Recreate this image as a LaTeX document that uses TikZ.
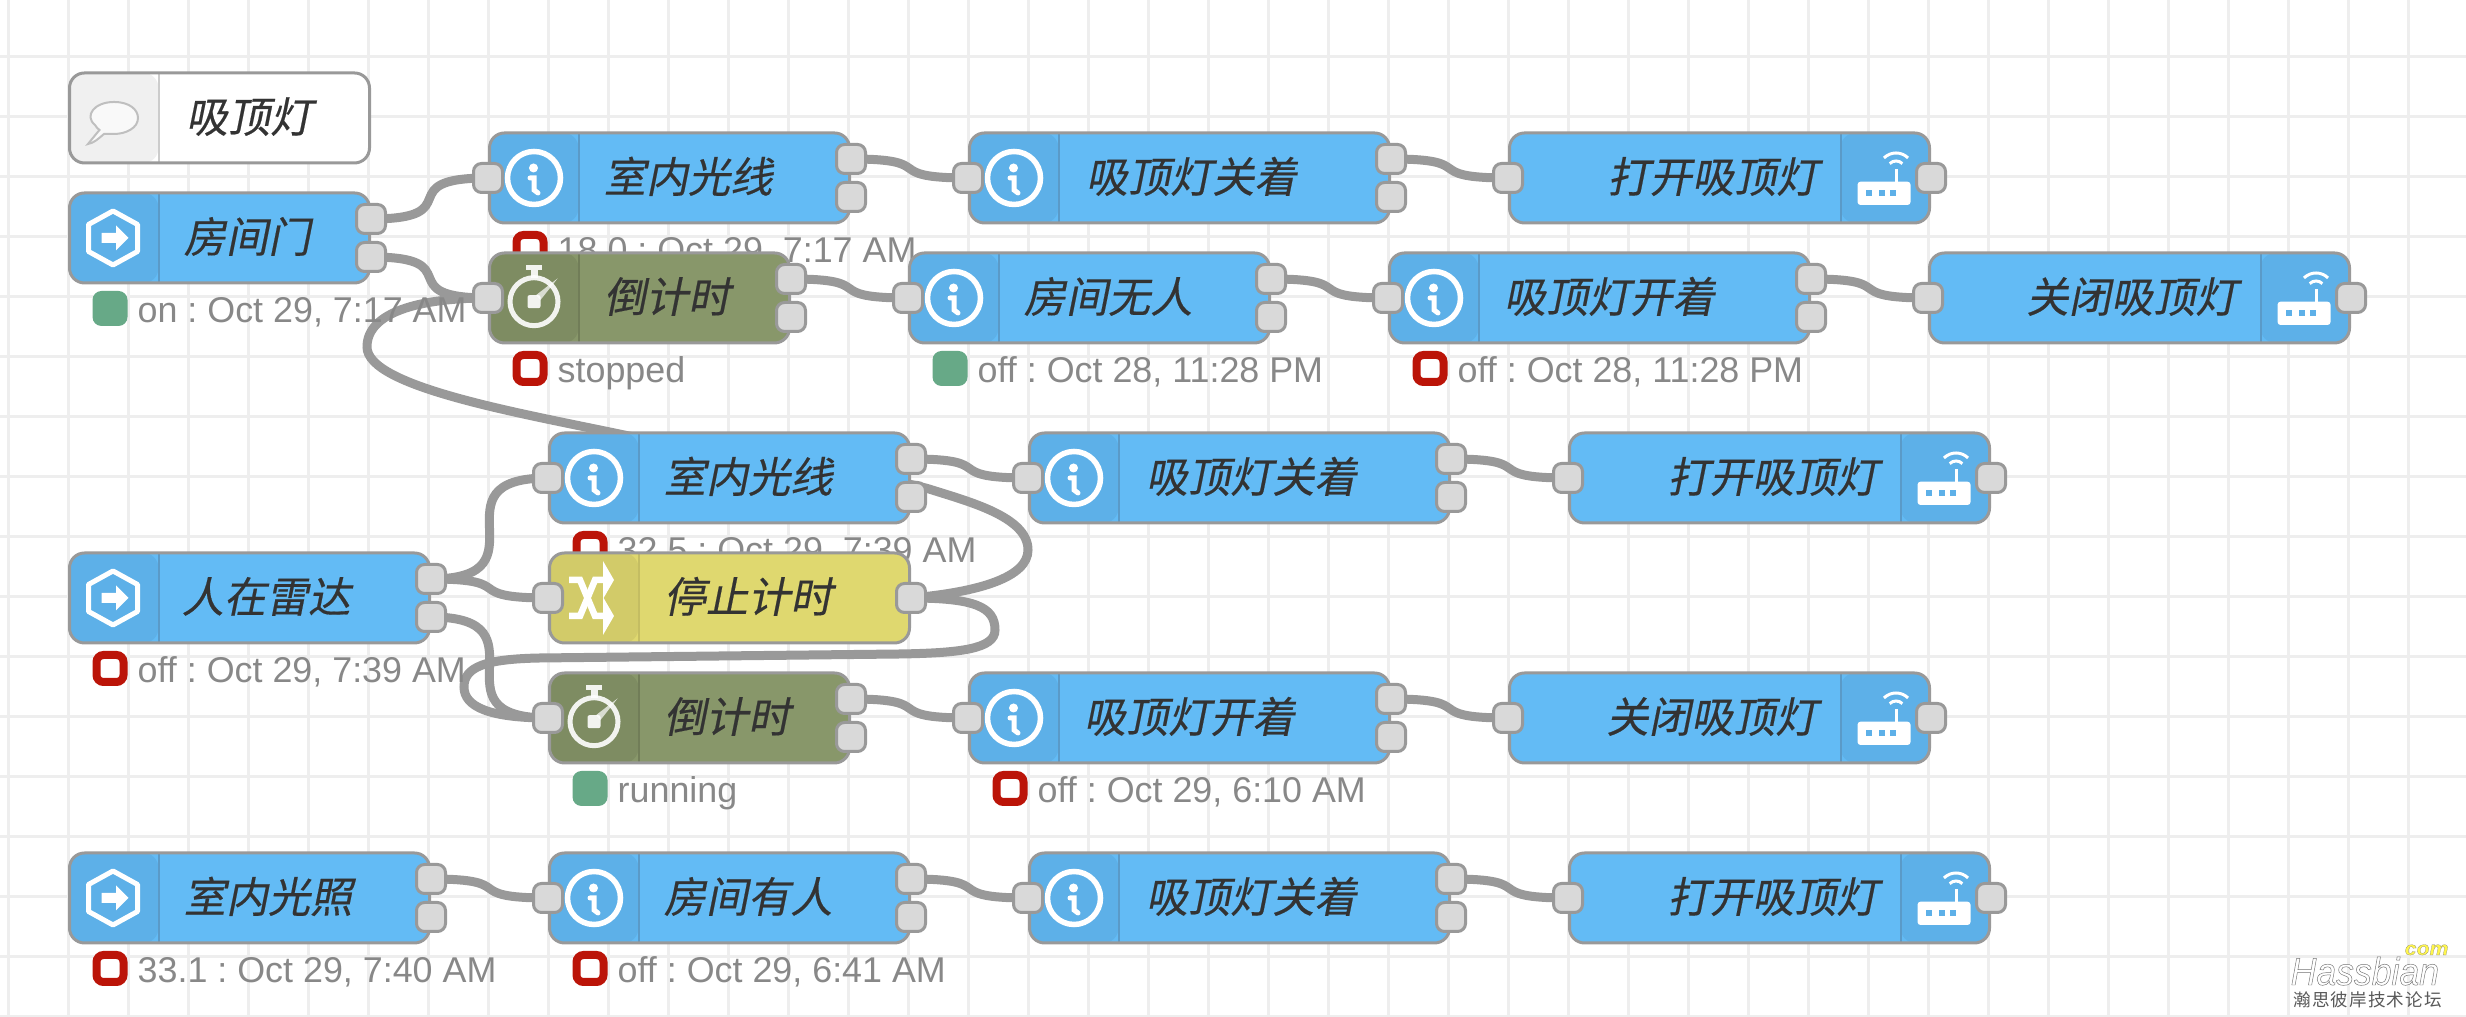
\documentclass[tikz,border=0pt]{standalone}
\usepackage{fontspec}
\usepackage{tikz}
\setmainfont{Liberation Sans}
\newfontfamily\cjkslant[FakeSlant=.2,FakeBold=.4]{Noto Sans CJK SC}
\newfontfamily\cjkplain[LetterSpace=6]{Noto Sans CJK SC}
\newfontfamily\hassfont[FakeBold=1.2,FakeStretch=.92]{Liberation Sans Italic}
\newfontfamily\comfont[FakeBold=.8,FakeStretch=1.1]{Liberation Sans Bold Italic}
\definecolor{nodeline}{HTML}{999999}
\definecolor{gridline}{HTML}{EEEEEE}
\definecolor{portgrey}{HTML}{D9D9D9}
\definecolor{inkgrey}{HTML}{333333}
\definecolor{statusgrey}{HTML}{888888}
\definecolor{flowblue}{HTML}{63BBF5}
\definecolor{tabblue}{HTML}{5DB0E8}
\definecolor{edgeblue}{HTML}{5A9AC8}
\definecolor{flowolive}{HTML}{88976A}
\definecolor{tabolive}{HTML}{7E8C62}
\definecolor{edgeolive}{HTML}{717D58}
\definecolor{flowyellow}{HTML}{DFD86F}
\definecolor{tabyellow}{HTML}{D2CB69}
\definecolor{edgeyellow}{HTML}{C4BD62}
\definecolor{tabgrey}{HTML}{F0F0F0}
\definecolor{ledgreen}{HTML}{67A987}
\definecolor{ledred}{HTML}{BB1408}
\pgfdeclarelayer{gridlayer}
\pgfdeclarelayer{wirelayer}
\pgfdeclarelayer{statuslayer}
\pgfsetlayers{gridlayer,wirelayer,statuslayer,main}
\tikzset{
	body/.style={draw=nodeline,line width=.03cm,rounded corners=.15cm,minimum height=.9cm,inner sep=0pt,anchor=west},
	lefttab/.style 2 args={path picture={
		\fill[#1] (path picture bounding box.south west) rectangle ([xshift=.89cm]path picture bounding box.north west);
		\draw[#2,line width=.02cm] ([xshift=.89cm]path picture bounding box.south west) -- ([xshift=.89cm]path picture bounding box.north west);}},
	righttab/.style 2 args={path picture={
		\fill[#1] (path picture bounding box.south east) rectangle ([xshift=-.89cm]path picture bounding box.north east);
		\draw[#2,line width=.02cm] ([xshift=-.89cm]path picture bounding box.south east) -- ([xshift=-.89cm]path picture bounding box.north east);}},
	bluebody/.style={body,fill=flowblue,lefttab={tabblue}{edgeblue},minimum width=#1},
	bluerouter/.style={body,fill=flowblue,righttab={tabblue}{edgeblue},minimum width=4.2cm},
	olivebody/.style={body,fill=flowolive,lefttab={tabolive}{edgeolive},minimum width=#1},
	yellowbody/.style={body,fill=flowyellow,lefttab={tabyellow}{edgeyellow},minimum width=#1},
	notebody/.style={body,fill=white,lefttab={tabgrey}{black!20},minimum width=#1},
	porthole/.style={draw=nodeline,fill=portgrey,line width=.03cm,rounded corners=.08cm,minimum size=.29cm,inner sep=0pt},
	flowtext/.style={inner sep=0pt,text=inkgrey,font=\cjkslant\fontsize{12}{14}\selectfont,text height=.39cm,text depth=.10cm},
	statustext/.style={inner sep=0pt,anchor=west,text=statusgrey,font=\fontsize{10.2}{12}\selectfont\frenchspacing,text height=.26cm,text depth=.08cm},
	greenled/.style={fill=ledgreen,rounded corners=.09cm,minimum size=.35cm,inner sep=0pt},
	redled/.style={draw=ledred,fill=white,line width=.08cm,rounded corners=.07cm,minimum size=.27cm,inner sep=0pt},
	wire/.style={draw=nodeline,line width=.09cm},
	infoicon/.pic={
		\draw[white,line width=.055cm] (0,0) circle (.265);
		\fill[white] (-.005,.10) circle (.045);
		\draw[white,line width=.05cm,line cap=round] (-.04,.0) -- (0,.0) -- (0,-.12) -- (.04,-.15);
	},
	injecticon/.pic={
		\draw[white,line width=.05cm,line join=round] (0,.27) -- (.245,.135) -- (.245,-.135) -- (0,-.27) -- (-.245,-.135) -- (-.245,.135) -- cycle;
		\fill[white] (-.115,.05) -- (.03,.05) -- (.03,.125) -- (.155,0) -- (.03,-.125) -- (.03,-.05) -- (-.115,-.05) -- cycle;
	},
	timericon/.pic={
		\draw[white,opacity=.9,line width=.05cm] (0,-.037) circle (.24);
		\fill[white,opacity=.9] (-.08,.33) rectangle (.08,.28);
		\fill[white,opacity=.9] (-.035,.28) rectangle (.035,.2);
		\fill[white,opacity=.9,rounded corners=.02cm] (-.065,-.102) rectangle (.065,.028);
		\fill[white,opacity=.7] (.02,.028) -- (.237,.197) -- (.065,-.02) -- cycle;
	},
	switchicon/.pic={
		\draw[white,line width=.065cm] (-.23,.18) -- (-.12,.18) -- (.03,-.18) -- (.13,-.18);
		\draw[white,line width=.065cm] (-.23,-.18) -- (-.12,-.18) -- (.03,.18) -- (.13,.18);
		\fill[white] (.11,.37) -- (.22,.18) -- (.11,-.01) -- cycle;
		\fill[white] (.11,.01) -- (.22,-.18) -- (.11,-.37) -- cycle;
	},
	routericon/.pic={
		\fill[white,rounded corners=.03cm] (-.265,-.27) rectangle (.265,-.037);
		\fill[tabblue] (-.18,-.18) rectangle (-.12,-.12);
		\fill[tabblue] (-.05,-.18) rectangle (.01,-.12);
		\fill[tabblue] (.06,-.18) rectangle (.12,-.12);
		\draw[white,line width=.03cm] (.12,-.037) -- (.12,.09);
		\draw[white,line width=.03cm] (.12,.08) ++(45:.09) arc (45:135:.09);
		\draw[white,line width=.03cm] (.12,.08) ++(45:.17) arc (45:135:.17);
	},
	noteicon/.pic={
		\draw[black!25,fill=white!60!tabgrey,line width=.02cm] (-.19,-.07) .. controls (-.30,.02) and (-.20,.16) .. (0,.16) .. controls (.16,.16) and (.24,.08) .. (.24,0) .. controls (.24,-.10) and (.12,-.16) .. (0,-.16) .. controls (-.06,-.16) and (-.08,-.16) .. (-.10,-.16) .. controls (-.16,-.21) and (-.20,-.25) .. (-.26,-.26) .. controls (-.22,-.21) and (-.17,-.15) .. (-.145,-.12) .. controls (-.16,-.11) and (-.18,-.09) .. (-.19,-.07) -- cycle;
	},
}
\begin{document}
\begin{tikzpicture}
	\useasboundingbox (0,0) rectangle (24.66,10.17);
	\begin{pgfonlayer}{gridlayer}
		\fill[white] (0,0) rectangle (24.66,10.17);
		\draw[gridline,line width=.03cm,step=.6,xshift=.08cm] (-.08,0) grid (24.66,10.17);
	\end{pgfonlayer}

	\node[notebody=3cm] (note) at (.68,8.99) {};
	\node[flowtext,anchor=west] (noteText) at ([xshift=1.17cm]note.west) {吸顶灯};
	\pic at ([xshift=.46cm]note.west) {noteicon};

	\node[bluebody=3cm] (door) at (.68,7.79) {};
	\node[flowtext,anchor=west] (doorText) at ([xshift=1.15cm]door.west) {房间门};
	\pic at ([xshift=.45cm]door.west) {injecticon};
	\node[porthole] (doorOutA) at ([yshift=.19cm]door.east) {};
	\node[porthole] (doorOutB) at ([yshift=-.19cm]door.east) {};

	\node[bluebody=3.6cm] (lightA) at (4.88,8.39) {};
	\node[flowtext,anchor=west] (lightAText) at ([xshift=1.15cm]lightA.west) {室内光线};
	\pic at ([xshift=.46cm]lightA.west) {infoicon};
	\node[porthole] (lightAIn) at (lightA.west) {};
	\node[porthole] (lightAOutA) at ([yshift=.19cm]lightA.east) {};
	\node[porthole] (lightAOutB) at ([yshift=-.19cm]lightA.east) {};

	\node[bluebody=4.2cm] (lampOffA) at (9.68,8.39) {};
	\node[flowtext,anchor=west] (lampOffAText) at ([xshift=1.17cm]lampOffA.west) {吸顶灯关着};
	\pic at ([xshift=.46cm]lampOffA.west) {infoicon};
	\node[porthole] (lampOffAIn) at (lampOffA.west) {};
	\node[porthole] (lampOffAOutA) at ([yshift=.19cm]lampOffA.east) {};
	\node[porthole] (lampOffAOutB) at ([yshift=-.19cm]lampOffA.east) {};

	\node[bluerouter] (openA) at (15.08,8.39) {};
	\node[flowtext,anchor=east] (openAText) at ([xshift=-1.12cm]openA.east) {打开吸顶灯};
	\pic at ([xshift=-.47cm]openA.east) {routericon};
	\node[porthole] (openAIn) at (openA.west) {};
	\node[porthole] (openAOut) at (openA.east) {};

	\node[olivebody=3cm] (timerA) at (4.88,7.19) {};
	\node[flowtext,anchor=west] (timerAText) at ([xshift=1.15cm]timerA.west) {倒计时};
	\pic at ([xshift=.46cm]timerA.west) {timericon};
	\node[porthole] (timerAIn) at (timerA.west) {};
	\node[porthole] (timerAOutA) at ([yshift=.19cm]timerA.east) {};
	\node[porthole] (timerAOutB) at ([yshift=-.19cm]timerA.east) {};

	\node[bluebody=3.6cm] (empty) at (9.08,7.19) {};
	\node[flowtext,anchor=west] (emptyText) at ([xshift=1.15cm]empty.west) {房间无人};
	\pic at ([xshift=.46cm]empty.west) {infoicon};
	\node[porthole] (emptyIn) at (empty.west) {};
	\node[porthole] (emptyOutA) at ([yshift=.19cm]empty.east) {};
	\node[porthole] (emptyOutB) at ([yshift=-.19cm]empty.east) {};

	\node[bluebody=4.2cm] (lampOnA) at (13.88,7.19) {};
	\node[flowtext,anchor=west] (lampOnAText) at ([xshift=1.15cm]lampOnA.west) {吸顶灯开着};
	\pic at ([xshift=.46cm]lampOnA.west) {infoicon};
	\node[porthole] (lampOnAIn) at (lampOnA.west) {};
	\node[porthole] (lampOnAOutA) at ([yshift=.19cm]lampOnA.east) {};
	\node[porthole] (lampOnAOutB) at ([yshift=-.19cm]lampOnA.east) {};

	\node[bluerouter] (closeA) at (19.28,7.19) {};
	\node[flowtext,anchor=east] (closeAText) at ([xshift=-1.13cm]closeA.east) {关闭吸顶灯};
	\pic at ([xshift=-.47cm]closeA.east) {routericon};
	\node[porthole] (closeAIn) at (closeA.west) {};
	\node[porthole] (closeAOut) at (closeA.east) {};

	\node[bluebody=3.6cm] (lightB) at (5.48,5.39) {};
	\node[flowtext,anchor=west] (lightBText) at ([xshift=1.15cm]lightB.west) {室内光线};
	\pic at ([xshift=.46cm]lightB.west) {infoicon};
	\node[porthole] (lightBIn) at (lightB.west) {};
	\node[porthole] (lightBOutA) at ([yshift=.19cm]lightB.east) {};
	\node[porthole] (lightBOutB) at ([yshift=-.19cm]lightB.east) {};

	\node[bluebody=4.2cm] (lampOffB) at (10.28,5.39) {};
	\node[flowtext,anchor=west] (lampOffBText) at ([xshift=1.17cm]lampOffB.west) {吸顶灯关着};
	\pic at ([xshift=.46cm]lampOffB.west) {infoicon};
	\node[porthole] (lampOffBIn) at (lampOffB.west) {};
	\node[porthole] (lampOffBOutA) at ([yshift=.19cm]lampOffB.east) {};
	\node[porthole] (lampOffBOutB) at ([yshift=-.19cm]lampOffB.east) {};

	\node[bluerouter] (openB) at (15.68,5.39) {};
	\node[flowtext,anchor=east] (openBText) at ([xshift=-1.12cm]openB.east) {打开吸顶灯};
	\pic at ([xshift=-.47cm]openB.east) {routericon};
	\node[porthole] (openBIn) at (openB.west) {};
	\node[porthole] (openBOut) at (openB.east) {};

	\node[bluebody=3.6cm] (radar) at (.68,4.19) {};
	\node[flowtext,anchor=west] (radarText) at ([xshift=1.13cm]radar.west) {人在雷达};
	\pic at ([xshift=.45cm]radar.west) {injecticon};
	\node[porthole] (radarOutA) at ([yshift=.19cm]radar.east) {};
	\node[porthole] (radarOutB) at ([yshift=-.19cm]radar.east) {};

	\node[yellowbody=3.6cm] (stopper) at (5.48,4.19) {};
	\node[flowtext,anchor=west] (stopperText) at ([xshift=1.15cm]stopper.west) {停止计时};
	\pic at ([xshift=.44cm]stopper.west) {switchicon};
	\node[porthole] (stopperIn) at (stopper.west) {};
	\node[porthole] (stopperOut) at (stopper.east) {};

	\node[olivebody=3cm] (timerB) at (5.48,2.99) {};
	\node[flowtext,anchor=west] (timerBText) at ([xshift=1.15cm]timerB.west) {倒计时};
	\pic at ([xshift=.46cm]timerB.west) {timericon};
	\node[porthole] (timerBIn) at (timerB.west) {};
	\node[porthole] (timerBOutA) at ([yshift=.19cm]timerB.east) {};
	\node[porthole] (timerBOutB) at ([yshift=-.19cm]timerB.east) {};

	\node[bluebody=4.2cm] (lampOnB) at (9.68,2.99) {};
	\node[flowtext,anchor=west] (lampOnBText) at ([xshift=1.15cm]lampOnB.west) {吸顶灯开着};
	\pic at ([xshift=.46cm]lampOnB.west) {infoicon};
	\node[porthole] (lampOnBIn) at (lampOnB.west) {};
	\node[porthole] (lampOnBOutA) at ([yshift=.19cm]lampOnB.east) {};
	\node[porthole] (lampOnBOutB) at ([yshift=-.19cm]lampOnB.east) {};

	\node[bluerouter] (closeB) at (15.08,2.99) {};
	\node[flowtext,anchor=east] (closeBText) at ([xshift=-1.13cm]closeB.east) {关闭吸顶灯};
	\pic at ([xshift=-.47cm]closeB.east) {routericon};
	\node[porthole] (closeBIn) at (closeB.west) {};
	\node[porthole] (closeBOut) at (closeB.east) {};

	\node[bluebody=3.6cm] (lux) at (.68,1.19) {};
	\node[flowtext,anchor=west] (luxText) at ([xshift=1.15cm]lux.west) {室内光照};
	\pic at ([xshift=.45cm]lux.west) {injecticon};
	\node[porthole] (luxOutA) at ([yshift=.19cm]lux.east) {};
	\node[porthole] (luxOutB) at ([yshift=-.19cm]lux.east) {};

	\node[bluebody=3.6cm] (occupied) at (5.48,1.19) {};
	\node[flowtext,anchor=west] (occupiedText) at ([xshift=1.15cm]occupied.west) {房间有人};
	\pic at ([xshift=.46cm]occupied.west) {infoicon};
	\node[porthole] (occupiedIn) at (occupied.west) {};
	\node[porthole] (occupiedOutA) at ([yshift=.19cm]occupied.east) {};
	\node[porthole] (occupiedOutB) at ([yshift=-.19cm]occupied.east) {};

	\node[bluebody=4.2cm] (lampOffC) at (10.28,1.19) {};
	\node[flowtext,anchor=west] (lampOffCText) at ([xshift=1.17cm]lampOffC.west) {吸顶灯关着};
	\pic at ([xshift=.46cm]lampOffC.west) {infoicon};
	\node[porthole] (lampOffCIn) at (lampOffC.west) {};
	\node[porthole] (lampOffCOutA) at ([yshift=.19cm]lampOffC.east) {};
	\node[porthole] (lampOffCOutB) at ([yshift=-.19cm]lampOffC.east) {};

	\node[bluerouter] (openC) at (15.68,1.19) {};
	\node[flowtext,anchor=east] (openCText) at ([xshift=-1.12cm]openC.east) {打开吸顶灯};
	\pic at ([xshift=-.47cm]openC.east) {routericon};
	\node[porthole] (openCIn) at (openC.west) {};
	\node[porthole] (openCOut) at (openC.east) {};

	\begin{pgfonlayer}{statuslayer}
		\node[greenled] (doorLed) at ([xshift=.42cm,yshift=-.705cm]door.west) {};
		\node[statustext] (doorStatus) at ([xshift=.69cm,yshift=-.755cm]door.west) {on : Oct 29, 7:17 AM};
		\node[redled] (lightALed) at ([xshift=.42cm,yshift=-.705cm]lightA.west) {};
		\node[statustext] (lightAStatus) at ([xshift=.69cm,yshift=-.755cm]lightA.west) {18.0 : Oct 29, 7:17 AM};
		\node[redled] (timerALed) at ([xshift=.42cm,yshift=-.705cm]timerA.west) {};
		\node[statustext] (timerAStatus) at ([xshift=.69cm,yshift=-.755cm]timerA.west) {stopped};
		\node[greenled] (emptyLed) at ([xshift=.42cm,yshift=-.705cm]empty.west) {};
		\node[statustext] (emptyStatus) at ([xshift=.69cm,yshift=-.755cm]empty.west) {off : Oct 28, 11:28 PM};
		\node[redled] (lampOnALed) at ([xshift=.42cm,yshift=-.705cm]lampOnA.west) {};
		\node[statustext] (lampOnAStatus) at ([xshift=.69cm,yshift=-.755cm]lampOnA.west) {off : Oct 28, 11:28 PM};
		\node[redled] (lightBLed) at ([xshift=.42cm,yshift=-.705cm]lightB.west) {};
		\node[statustext] (lightBStatus) at ([xshift=.69cm,yshift=-.755cm]lightB.west) {32.5 : Oct 29, 7:39 AM};
		\node[redled] (radarLed) at ([xshift=.42cm,yshift=-.705cm]radar.west) {};
		\node[statustext] (radarStatus) at ([xshift=.69cm,yshift=-.755cm]radar.west) {off : Oct 29, 7:39 AM};
		\node[greenled] (timerBLed) at ([xshift=.42cm,yshift=-.705cm]timerB.west) {};
		\node[statustext] (timerBStatus) at ([xshift=.69cm,yshift=-.755cm]timerB.west) {running};
		\node[redled] (lampOnBLed) at ([xshift=.42cm,yshift=-.705cm]lampOnB.west) {};
		\node[statustext] (lampOnBStatus) at ([xshift=.69cm,yshift=-.755cm]lampOnB.west) {off : Oct 29, 6:10 AM};
		\node[redled] (luxLed) at ([xshift=.42cm,yshift=-.705cm]lux.west) {};
		\node[statustext] (luxStatus) at ([xshift=.69cm,yshift=-.755cm]lux.west) {33.1 : Oct 29, 7:40 AM};
		\node[redled] (occupiedLed) at ([xshift=.42cm,yshift=-.705cm]occupied.west) {};
		\node[statustext] (occupiedStatus) at ([xshift=.69cm,yshift=-.755cm]occupied.west) {off : Oct 29, 6:41 AM};
	\end{pgfonlayer}

	\begin{pgfonlayer}{wirelayer}
		\draw[wire] (doorOutA.center) .. controls +(1,0) and +(-1,0) .. (lightAIn.center);
		\draw[wire] (doorOutB.center) .. controls +(1,0) and +(-1,0) .. (timerAIn.center);
		\draw[wire] (lightAOutA.center) .. controls +(.9,0) and +(-.9,0) .. (lampOffAIn.center);
		\draw[wire] (lampOffAOutA.center) .. controls +(.9,0) and +(-.9,0) .. (openAIn.center);
		\draw[wire] (timerAOutA.center) .. controls +(.9,0) and +(-.9,0) .. (emptyIn.center);
		\draw[wire] (emptyOutA.center) .. controls +(.9,0) and +(-.9,0) .. (lampOnAIn.center);
		\draw[wire] (lampOnAOutA.center) .. controls +(.9,0) and +(-.9,0) .. (closeAIn.center);
		\draw[wire] (radarOutA.center) .. controls +(1.2,0) and +(-1.2,0) .. (lightBIn.center);
		\draw[wire] (radarOutA.center) .. controls +(.9,0) and +(-.9,0) .. (stopperIn.center);
		\draw[wire] (radarOutB.center) .. controls +(1.2,0) and +(-1.2,0) .. (timerBIn.center);
		\draw[wire] (lightBOutA.center) .. controls +(.9,0) and +(-.9,0) .. (lampOffBIn.center);
		\draw[wire] (lampOffBOutA.center) .. controls +(.9,0) and +(-.9,0) .. (openBIn.center);
		\draw[wire] (timerBOutA.center) .. controls +(.9,0) and +(-.9,0) .. (lampOnBIn.center);
		\draw[wire] (lampOnBOutA.center) .. controls +(.9,0) and +(-.9,0) .. (closeBIn.center);
		\draw[wire] (luxOutA.center) .. controls +(.9,0) and +(-.9,0) .. (occupiedIn.center);
		\draw[wire] (occupiedOutA.center) .. controls +(.9,0) and +(-.9,0) .. (lampOffCIn.center);
		\draw[wire] (lampOffCOutA.center) .. controls +(.9,0) and +(-.9,0) .. (openCIn.center);
		\draw[wire] (stopperOut.center) .. controls (9.8,4.25) and (10.28,4.40) .. (10.28,4.67) .. controls (10.28,5.0) and (9.7,5.15) .. (9.29,5.28) .. controls (8.9,5.40) and (7,5.66) .. (6.24,5.82) .. controls (5.2,6.04) and (3.67,6.30) .. (3.67,6.70) .. controls (3.67,7.05) and (4.2,7.19) .. (timerAIn.center);
		\draw[wire] (stopperOut.center) .. controls (9.75,4.19) and (9.95,4.10) .. (9.95,3.87) .. controls (9.95,3.68) and (9.6,3.64) .. (9,3.63) -- (5.4,3.59) .. controls (4.85,3.58) and (4.64,3.50) .. (4.64,3.30) .. controls (4.64,3.10) and (4.9,2.99) .. (timerBIn.center);
	\end{pgfonlayer}

	\node[inner sep=0pt,anchor=base west,text=white,font=\hassfont\fontsize{11}{13}\selectfont] (hassMark) at (22.9,.32) {\special{pdf:code 0.45 G}Hassbian};
	\node[inner sep=0pt,anchor=base west,text=yellow!70!white,font=\comfont\fontsize{5.5}{7}\selectfont] (comMark) at (24.04,.62) {\special{pdf:code 0.45 G}com};
	\node[inner sep=0pt,anchor=west,text=black!65,font=\cjkplain\fontsize{5}{6}\selectfont] (siteMark) at (22.93,.17) {瀚思彼岸技术论坛};
\end{tikzpicture}
\end{document}
